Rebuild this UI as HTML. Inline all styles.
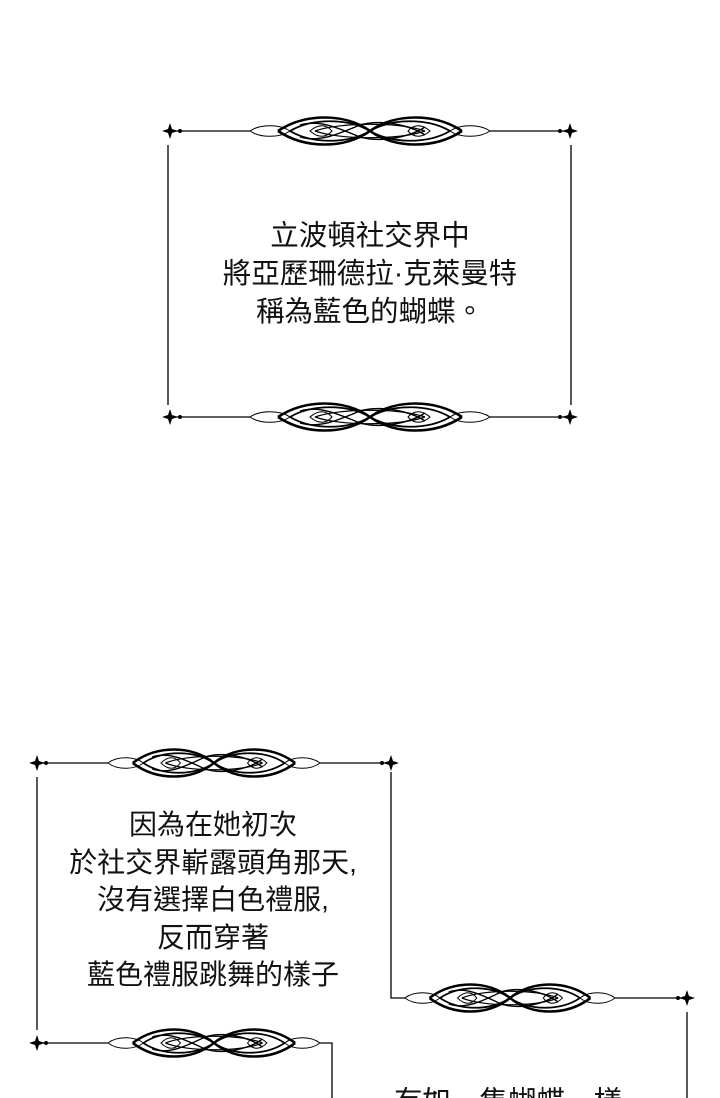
<!DOCTYPE html>
<html><head><meta charset="utf-8"><style>
html,body{margin:0;padding:0;background:#fff;width:720px;height:1098px;overflow:hidden;position:relative}
.t{position:absolute;text-align:center;font-family:"Liberation Sans","Noto Sans CJK TC",sans-serif;color:#111;font-size:28.5px;line-height:38px;white-space:nowrap}
svg{position:absolute;left:0;top:0}
</style></head><body>
<svg width="720" height="1098" viewBox="0 0 720 1098">
<defs>
<g id="orn" fill="none" stroke="#000">
 <path d="M0 0 C10 -7 30 -7 40 0 C30 7 10 7 0 0Z" stroke-width="1"/>
 <path d="M240 0 C230 -7 210 -7 200 0 C210 7 230 7 240 0Z" stroke-width="1"/>
 <path d="M28 0 C55 -18 95 -18 120 0 C145 18 185 18 212 0" stroke-width="2.6"/>
 <path d="M28 0 C55 18 95 18 120 0 C145 -18 185 -18 212 0" stroke-width="2.6"/>
 <path d="M40 0 C62 -13 98 -13 120 0 C142 13 178 13 200 0" stroke-width="1.8"/>
 <path d="M40 0 C62 13 98 13 120 0 C142 -13 178 -13 200 0" stroke-width="1.8"/>
 <path d="M50 -6 C70 -12 90 -2 110 6 C130 12 160 6 175 -4" stroke-width="1.4"/>
 <path d="M50 6 C70 12 90 2 110 -6 C130 -12 160 -6 175 4" stroke-width="1.4"/>
 <path d="M60 0 C68 -7 76 -7 82 0 C76 7 68 7 60 0Z" stroke-width="1"/>
 <path d="M158 0 C164 -7 172 -7 180 0 C172 7 164 7 158 0Z" stroke-width="1"/>
 <path d="M65 0 C90 -9 150 -9 175 0" stroke-width="1.2"/>
 <path d="M65 0 C90 9 150 9 175 0" stroke-width="1.2"/>
</g>
<path id="dia" d="M0 -8 L2 -2 L8 0 L2 2 L0 8 L-2 2 L-8 0 L-2 -2Z" fill="#000"/>
</defs>
<g stroke="#000" stroke-width="1.3" fill="none">
 <line x1="172" y1="131" x2="250" y2="131"/><line x1="490" y1="131" x2="568" y2="131"/>
 <line x1="172" y1="417" x2="250" y2="417"/><line x1="490" y1="417" x2="568" y2="417"/>
 <line x1="168" y1="145" x2="168" y2="405"/><line x1="571" y1="145" x2="571" y2="405"/>
 <line x1="37" y1="763" x2="108" y2="763"/><line x1="320" y1="763" x2="391" y2="763"/>
 <line x1="37" y1="1043" x2="108" y2="1043"/><polyline points="320,1043 332,1043 332,1098"/>
 <line x1="37" y1="777" x2="37" y2="1030"/>
 <polyline points="391,772 391,998 405,998"/>
 <line x1="615" y1="998" x2="687" y2="998"/>
 <line x1="687" y1="1012" x2="687" y2="1098"/>
</g>
<g fill="#000">
 <use href="#dia" x="170" y="131"/><circle cx="180" cy="131" r="2"/>
 <use href="#dia" x="570" y="131"/><circle cx="560" cy="131" r="2"/>
 <use href="#dia" x="170" y="417"/><circle cx="180" cy="417" r="2"/>
 <use href="#dia" x="570" y="417"/><circle cx="560" cy="417" r="2"/>
 <use href="#dia" x="37" y="763"/><circle cx="46" cy="763" r="2"/>
 <use href="#dia" x="391" y="763"/><circle cx="382" cy="763" r="2"/>
 <use href="#dia" x="37" y="1043"/><circle cx="46" cy="1043" r="2"/>
 <use href="#dia" x="687" y="998"/><circle cx="678" cy="998" r="2"/>
</g>
<use href="#orn" transform="translate(250,131)"/>
<use href="#orn" transform="translate(250,417)"/>
<use href="#orn" transform="translate(108,763) scale(0.883,1)"/>
<use href="#orn" transform="translate(108,1043) scale(0.883,1)"/>
<use href="#orn" transform="translate(405,998) scale(0.875,1)"/>
</svg>
<div class="t" style="left:170px;width:400px;top:217px">立波頓社交界中<br>將亞歷珊德拉·克萊曼特<br>稱為藍色的蝴蝶。</div>
<div class="t" style="left:13px;width:400px;top:806px;line-height:37.5px;font-size:28px">因為在她初次<br>於社交界嶄露頭角那天,<br>沒有選擇白色禮服,<br>反而穿著<br>藍色禮服跳舞的樣子</div>
<div class="t" style="left:308px;width:400px;top:1083px;font-size:28.5px">有如一隻蝴蝶一樣</div>
</body></html>
